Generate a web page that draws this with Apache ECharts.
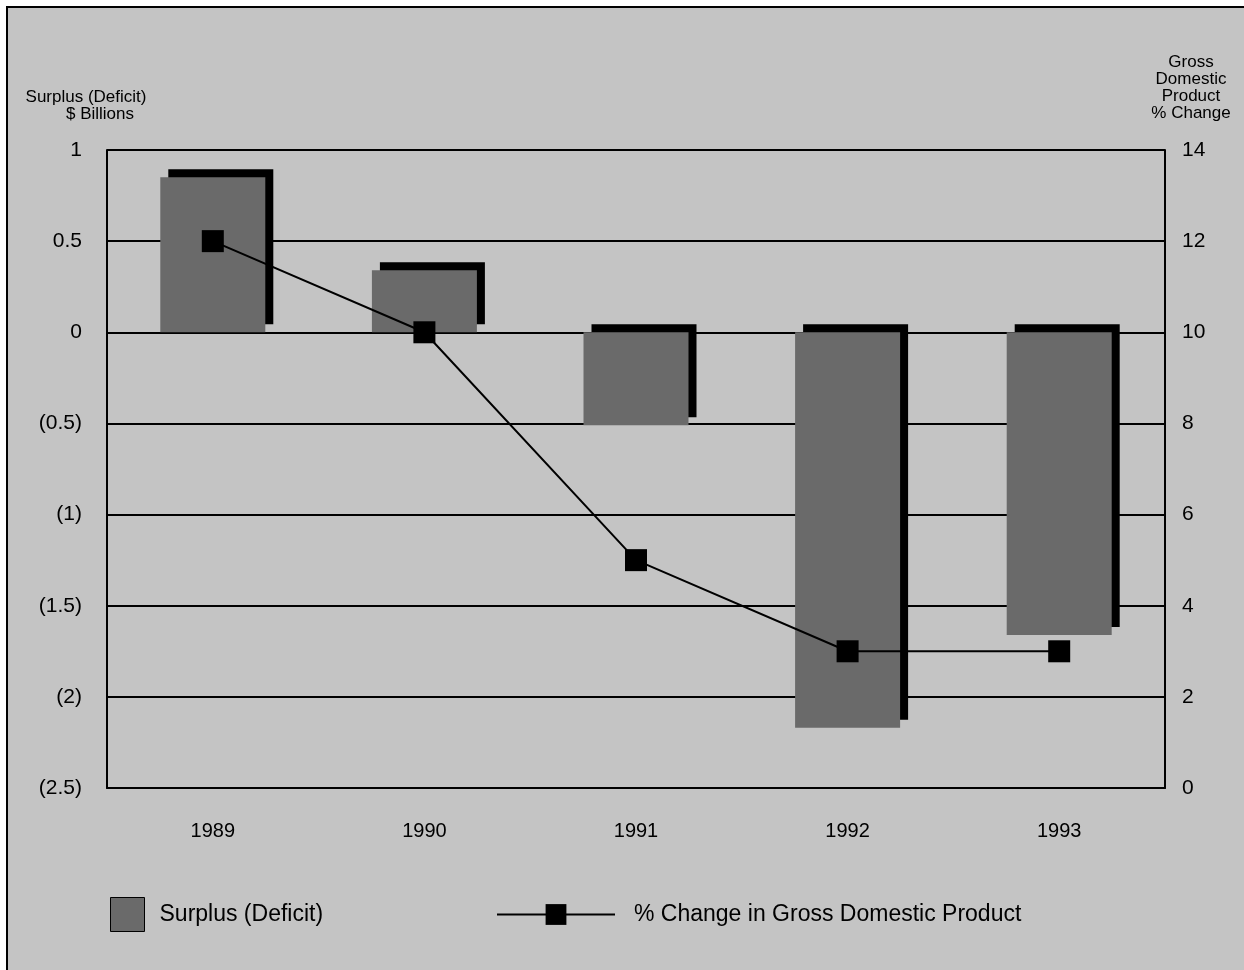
<!DOCTYPE html>
<html>
<head>
<meta charset="utf-8">
<script src="https://cdn.jsdelivr.net/npm/echarts@6/dist/echarts.min.js"></script>
<style>
  html, body { margin: 0; padding: 0; background: #fff; }
  #chart { width: 1244px; height: 970px; }
</style>
</head>
<body>
<div id="chart"></div>
<script>
// values
var years = ['1989', '1990', '1991', '1992', '1993'];
var surplus = [0.85, 0.34, -0.51, -2.17, -1.66];   // $ billions, left axis
var gdpChange = [12, 10, 5, 3, 3];                 // % change, right axis

var FONT = '"Liberation Sans", Arial, sans-serif';

var chart = echarts.init(document.getElementById('chart'));

// negative numbers shown in brackets like (0.5)
function money(v) {
  if (v < 0) return '(' + Math.abs(v) + ')';
  return String(v);
}

var option = {
  animation: false,
  backgroundColor: '#fff',
  textStyle: { fontFamily: FONT, color: '#000' },
  graphic: [
    { type: 'rect', z: -10, shape: { x: 7, y: 7, width: 1300, height: 1000 },
      style: { fill: '#c4c4c4', stroke: '#000', lineWidth: 2 } },
    { type: 'text', x: 86, y: 89, style: { text: 'Surplus (Deficit)', font: '17px ' + FONT, fill: '#000', textAlign: 'center' } },
    { type: 'text', x: 100, y: 106, style: { text: '$ Billions', font: '17px ' + FONT, fill: '#000', textAlign: 'center' } },
    { type: 'text', x: 1191, y: 54, style: { text: 'Gross\nDomestic\nProduct\n% Change', font: '17px ' + FONT,
      lineHeight: 17, fill: '#000', textAlign: 'center' } }
  ],
  grid: { left: 107, right: 79, top: 150, bottom: 182, show: true, backgroundColor: 'transparent', borderWidth: 0 },
  legend: [
    {
      left: 110, top: 897, padding: 0, itemWidth: 34, itemHeight: 34,
      data: [{ name: 'Surplus (Deficit)', icon: 'rect' }],
      itemStyle: { shadowColor: 'rgba(0,0,0,0)', shadowOffsetX: 0, shadowOffsetY: 0, borderColor: '#000', borderWidth: 1 },
      textStyle: { fontSize: 23, color: '#000', padding: [6, 0, 0, 10] }
    },
    {
      left: 496, top: 903, padding: 0, itemWidth: 118, itemHeight: 26,
      data: ['% Change in Gross Domestic Product'],
      textStyle: { fontSize: 23, color: '#000', padding: [0, 0, 0, 14] }
    }
  ],
  xAxis: {
    type: 'category',
    data: years,
    axisLine: { show: true, onZero: false, lineStyle: { color: '#000', width: 2 } },
    axisTick: { show: false },
    axisLabel: { fontSize: 20, color: '#000', margin: 33 }
  },
  yAxis: [
    {
      type: 'value', min: -2.5, max: 1, interval: 0.5,
      axisLine: { show: true, lineStyle: { color: '#000', width: 2 } },
      axisTick: { show: false },
      splitLine: { show: true, lineStyle: { color: '#000', width: 2 } },
      axisLabel: { fontSize: 21, color: '#000', margin: 25, formatter: money }
    },
    {
      type: 'value', min: 0, max: 14, interval: 2,
      axisLine: { show: true, lineStyle: { color: '#000', width: 2 } },
      axisTick: { show: false },
      splitLine: { show: false },
      axisLabel: { fontSize: 21, color: '#000', margin: 17 }
    }
  ],
  series: [
    {
      name: 'Surplus (Deficit)',
      type: 'bar',
      data: surplus,
      barWidth: 105,
      z: 2,
      itemStyle: {
        color: '#6a6a6a',
        shadowColor: '#000',
        shadowBlur: 0,
        shadowOffsetX: 8,
        shadowOffsetY: -8
      }
    },
    {
      name: '% Change in Gross Domestic Product',
      type: 'line',
      yAxisIndex: 1,
      data: gdpChange,
      z: 5,
      symbol: 'rect',
      symbolSize: 22,
      lineStyle: { color: '#000', width: 2 },
      itemStyle: { color: '#000' }
    }
  ]
};

chart.setOption(option);
</script>
</body>
</html>
